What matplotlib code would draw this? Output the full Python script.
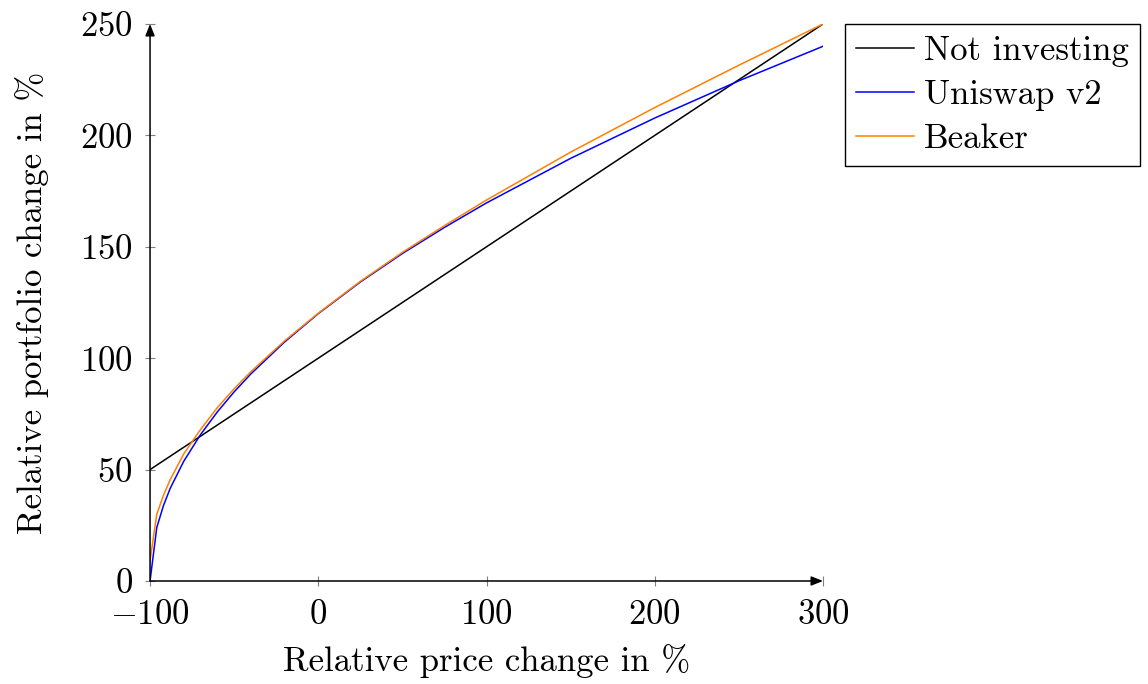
import numpy as np
import matplotlib
matplotlib.use("Agg")
import matplotlib.pyplot as plt
from matplotlib.ticker import FuncFormatter

plt.rcParams['font.family'] = 'cmr10'
plt.rcParams['mathtext.fontset'] = 'cm'
plt.rcParams['axes.formatter.use_mathtext'] = True

## Daten
preis = [-100, -96, -92, -88, -80, -70, -60, -50, -40, -20, 0, 25, 50, 75, 100, 150, 200, 250, 300]
nicht_investiert = [50, 52, 54, 56, 60, 65, 70, 75, 80, 90, 100, 112.5, 125, 137.5, 150, 175, 200, 225, 250]
uniswap = [0, 24, 33.9, 41.6, 53.7, 65.7, 75.9, 84.9, 93, 107.3, 120, 134.2, 147, 158.7, 169.7, 189.7, 207.8, 224.5, 240]
beaker = [9, 30, 38.5, 45.5, 57, 68, 77.8, 86.3, 94, 107.8, 120.2, 134.5, 147.5, 159.5, 171, 192.5, 212.5, 231.5, 250]

x_ticks = [-100, 0, 100, 200, 300]
y_ticks = [0, 50, 100, 150, 200, 250]

fs = 25

## Plotten
fig = plt.figure(figsize=(11.48, 6.84), dpi=100)
ax = fig.add_axes([0.1307, 0.1506, 0.7169 - 0.1307, 0.9649 - 0.1506])

ax.plot(preis, nicht_investiert, c='black', lw=1.1, label='Not investing')
ax.plot(preis, uniswap, c='#0000ff', lw=1.1, label='Uniswap v2')
ax.plot(preis, beaker, c='#ff8000', lw=1.1, label='Beaker')

ax.set_xlim(-100, 300)
ax.set_ylim(0, 250)
ax.set_xticks(x_ticks)
ax.set_yticks(y_ticks)
fmt = FuncFormatter(lambda v, p: r'$%d$' % v)
ax.xaxis.set_major_formatter(fmt)
ax.yaxis.set_major_formatter(fmt)
ax.tick_params(direction='inout', length=7, width=0.8, color='#808080', labelsize=fs)
ax.tick_params(axis='x', pad=10)
ax.tick_params(axis='y', pad=9)

for s in ['top', 'right', 'left', 'bottom']:
    ax.spines[s].set_visible(False)

# Achsen mit Pfeilen
arrow = dict(arrowstyle='-|>,head_length=0.5,head_width=0.2', color='black', lw=1.1, mutation_scale=14, shrinkA=0, shrinkB=0)
ax.annotate('', xy=(0, 1), xytext=(0, 0), xycoords='axes fraction', arrowprops=arrow, zorder=5)
ax.annotate('', xy=(1, 0), xytext=(0, 0), xycoords='axes fraction', arrowprops=arrow, zorder=5)

ax.set_xlabel('Relative price change in %', fontsize=fs, labelpad=9)
ax.set_ylabel('Relative portfolio change in %', fontsize=fs, labelpad=22)

leg = ax.legend(loc='upper left', bbox_to_anchor=(1.032, 1.0), fontsize=fs, frameon=True, fancybox=False,
                edgecolor='black', framealpha=1, handlelength=1.68, handletextpad=0.28, borderpad=0.33,
                labelspacing=0.35, borderaxespad=0)
leg.get_frame().set_linewidth(1.0)

fig.savefig('out.png', dpi=100)
